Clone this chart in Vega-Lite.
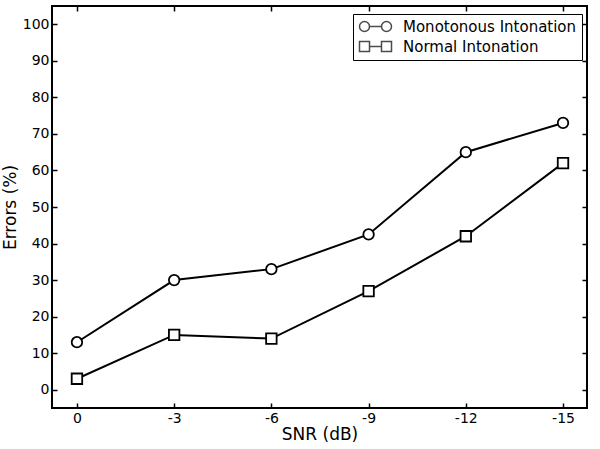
{
  "$schema": "https://vega.github.io/schema/vega-lite/v6.json",
  "width": 535,
  "height": 402,
  "autosize": "none",
  "padding": {"left": 52, "top": 6, "right": 13, "bottom": 41},
  "background": "white",
  "config": {
    "font": "DejaVu Sans",
    "view": {"stroke": "black", "strokeWidth": 2},
    "axis": {
      "domain": false,
      "grid": false,
      "tickColor": "black",
      "tickWidth": 1.5,
      "tickSize": -5,
      "labelColor": "black",
      "titleColor": "black",
      "labelFont": "DejaVu Sans",
      "titleFont": "DejaVu Sans",
      "labelFontSize": 14,
      "titleFontSize": 17,
      "titleFontWeight": "normal"
    }
  },
  "data": {
    "values": [
      {"snr": 0, "errors": 13, "series": "Monotonous Intonation"},
      {"snr": -3, "errors": 30, "series": "Monotonous Intonation"},
      {"snr": -6, "errors": 33, "series": "Monotonous Intonation"},
      {"snr": -9, "errors": 42.5, "series": "Monotonous Intonation"},
      {"snr": -12, "errors": 65, "series": "Monotonous Intonation"},
      {"snr": -15, "errors": 73, "series": "Monotonous Intonation"},
      {"snr": 0, "errors": 3, "series": "Normal Intonation"},
      {"snr": -3, "errors": 15, "series": "Normal Intonation"},
      {"snr": -6, "errors": 14, "series": "Normal Intonation"},
      {"snr": -9, "errors": 27, "series": "Normal Intonation"},
      {"snr": -12, "errors": 42, "series": "Normal Intonation"},
      {"snr": -15, "errors": 62, "series": "Normal Intonation"}
    ]
  },
  "layer": [
    {
      "mark": {"type": "line", "color": "black", "strokeWidth": 2},
      "encoding": {
        "x": {
          "field": "snr", "type": "quantitative",
          "scale": {"domain": [0.77, -15.74], "nice": false, "zero": false},
          "axis": {"values": [0, -3, -6, -9, -12, -15], "labelExpr": "datum.value == 0 ? '0' : '-' + abs(datum.value)", "title": "SNR (dB)", "labelPadding": 8, "titlePadding": 1, "orient": "bottom"}
        },
        "y": {
          "field": "errors", "type": "quantitative",
          "scale": {"domain": [-5, 105], "nice": false, "zero": false},
          "axis": {"values": [0, 10, 20, 30, 40, 50, 60, 70, 80, 90, 100], "title": "Errors (%)", "labelPadding": 8, "titlePadding": 3, "orient": "left"}
        },
        "detail": {"field": "series"}
      }
    },
    {
      "mark": {"type": "point", "filled": true, "fill": "white", "stroke": "black", "strokeWidth": 1.8, "opacity": 1, "size": 110},
      "encoding": {
        "x": {"field": "snr", "type": "quantitative", "axis": null},
        "y": {"field": "errors", "type": "quantitative", "axis": null},
        "shape": {
          "field": "series", "type": "nominal",
          "scale": {"domain": ["Monotonous Intonation", "Normal Intonation"], "range": ["circle", "square"]},
          "legend": null
        }
      }
    },
    {
      "data": {"values": []},
      "mark": {"type": "point", "filled": true, "fill": "white", "stroke": "black"},
      "encoding": {
        "x": {"field": "snr", "type": "quantitative", "axis": {"orient": "top", "values": [0, -3, -6, -9, -12, -15], "labels": false, "title": null}},
        "y": {"field": "errors", "type": "quantitative", "axis": {"orient": "right", "values": [0, 10, 20, 30, 40, 50, 60, 70, 80, 90, 100], "labels": false, "title": null}},
        "shape": {
          "field": "series", "type": "nominal",
          "scale": {
            "domain": ["Monotonous Intonation", "Normal Intonation"],
            "range": [
              "M -1.0,0 C -1.0,-0.46 -0.627,-0.833 -0.167,-0.833 C 0.293,-0.833 0.667,-0.46 0.667,0 C 0.667,0.46 0.293,0.833 -0.167,0.833 C -0.627,0.833 -1.0,0.46 -1.0,0 Z M 0.667,0 L 2.667,0 M 2.667,0 C 2.667,-0.46 3.04,-0.833 3.5,-0.833 C 3.96,-0.833 4.333,-0.46 4.333,0 C 4.333,0.46 3.96,0.833 3.5,0.833 C 3.04,0.833 2.667,0.46 2.667,0 Z",
              "M -1,-0.833 L 0.667,-0.833 L 0.667,0.833 L -1,0.833 Z M 0.667,0 L 2.667,0 M 2.667,-0.833 L 4.333,-0.833 L 4.333,0.833 L 2.667,0.833 Z"
            ]
          },
          "legend": {
            "title": null,
            "orient": "none",
            "legendX": 301,
            "legendY": 8,
            "strokeColor": "black",
            "fillColor": "white",
            "padding": 5,
            "labelFontSize": 15,
            "labelFont": "DejaVu Sans",
            "labelColor": "black",
            "labelLimit": 0,
            "labelOffset": 30,
            "symbolSize": 144,
            "rowPadding": 3
          }
        }
      }
    }
  ],
  "resolve": {"axis": {"x": "independent", "y": "independent"}, "scale": {"shape": "independent"}}
}
